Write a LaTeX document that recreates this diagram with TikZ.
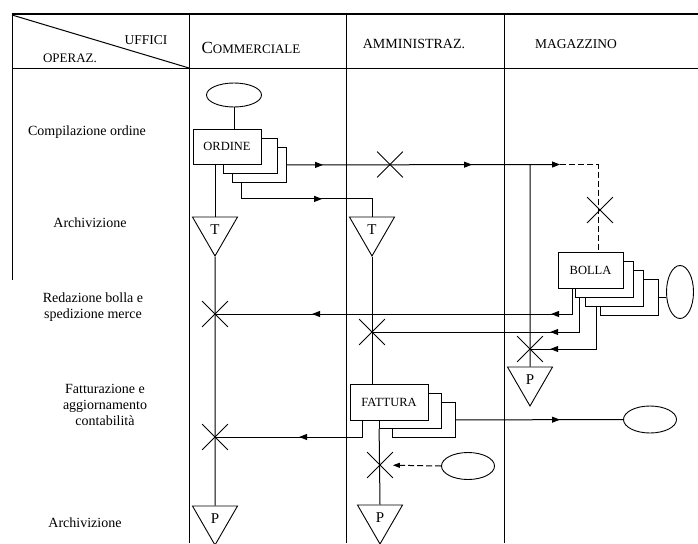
\documentclass[tikz,border=0pt]{standalone}
\usepackage{fontspec}
\setmainfont{Liberation Serif}
\usetikzlibrary{positioning,arrows.meta,calc,shapes.geometric,shapes.misc,decorations.markings}

\begin{document}
\begin{tikzpicture}[x=1pt,y=-1pt,
  lane/.style={line width=0.8pt},
  flow/.style={line width=1pt},
  tratt/.style={dash pattern=on 6pt off 3pt},
  doc/.style={draw, fill=white, rectangle, line width=0.9pt, inner sep=0pt, font=\fontsize{12.5}{14}\selectfont},
  copia/.style={doc, anchor=north east},
  archivio/.style={draw, fill=white, regular polygon, regular polygon sides=3, shape border rotate=180,
    minimum size=52pt, inner sep=0pt, line width=0.9pt, font=\fontsize{15}{17}\selectfont},
  term/.style={draw, ellipse, line width=0.9pt, inner sep=0pt},
  croce/.style={draw, cross out, minimum size=25pt, inner sep=0pt, line width=0.8pt},
  oper/.style={align=center, font=\fontsize{14}{16}\selectfont},
  ufficio/.style={font=\fontsize{13}{15}\selectfont},
  freccia/.style={postaction={decorate, decoration={markings,
    mark=at position #1 with {\arrow{Triangle[length=8pt,width=6pt]}}}}}
]
\useasboundingbox (0,0) rectangle (698,543);

% griglia
\draw[lane, line width=1.2pt] (12,14) -- (698,14);
\draw[lane, line width=1pt] (12,68) -- (698,68);
\draw[lane] (12,14) -- (12,280);
\draw[lane, line width=1pt] (12,15) -- (189,68);
\foreach \x in {189,346,504}
  \draw[lane] (\x,14) -- (\x,543);

% intestazioni
\node[ufficio, font=\fontsize{13.5}{15}\selectfont] (uff) at (146,40) {UFFICI};
\node[ufficio] (opz) at (70,58) {OPERAZ.};
\node[ufficio] (comm) at (251,48) {{\fontsize{17}{18}\selectfont C}OMMERCIALE};
\node[ufficio, font=\fontsize{14}{16}\selectfont] (amm) at (414,44) {AMMINISTRAZ.};
\node[ufficio, font=\fontsize{13.5}{16}\selectfont] (mag) at (576,44) {MAGAZZINO};

% operazioni
\node[oper] (op1) at (87,132) {Compilazione ordine};
\node[oper] (op2) at (90,223) {Archivizione};
\node[oper] (op3) at (93,307) {Redazione bolla e\\spedizione merce};
\node[oper] (op4) at (105,405) {Fatturazione e\\aggiornamento\\contabilità};
\node[oper] (op5) at (85,523) {Archivizione};

% documenti
\node[term, minimum width=55pt, minimum height=24pt] (inizio) at (234,95) {};
\node[copia, minimum width=54pt, minimum height=35pt] (ordine3) at (287,147) {};
\node[copia, minimum width=54pt, minimum height=35pt] (ordine2) at (278,138) {};
\node[doc, minimum width=68pt, minimum height=35pt] (ordine) at (227,146.5) {ORDINE};

\node[copia, minimum width=58pt, minimum height=36pt] (bolla4) at (659,279) {};
\node[copia, minimum width=58pt, minimum height=36pt] (bolla3) at (644,270) {};
\node[copia, minimum width=58pt, minimum height=36pt] (bolla2) at (634,261) {};
\node[doc, minimum width=65pt, minimum height=36pt] (bolla) at (590.5,270) {BOLLA};
\node[term, minimum width=27pt, minimum height=53pt] (archB) at (680,292) {};

\node[copia, minimum width=63pt, minimum height=35pt] (fattura3) at (456,402) {};
\node[copia, minimum width=62pt, minimum height=35pt] (fattura2) at (442,393) {};
\node[doc, minimum width=78pt, minimum height=36pt] (fattura) at (389,402) {FATTURA};
\node[term, minimum width=53pt, minimum height=27pt] (archF) at (650,419.5) {};
\node[term, minimum width=53pt, minimum height=27pt] (archA) at (468,466) {};

% archivi
\node[archivio] (t1) at (215,230) {\raisebox{-3pt}{T}};
\node[archivio] (t2) at (372,230) {\raisebox{-3pt}{T}};
\node[archivio] (pm) at (530,380) {\raisebox{-3pt}{P}};
\node[archivio] (pc) at (215,519) {\raisebox{-3pt}{P}};
\node[archivio] (pa) at (380,518) {\raisebox{-3pt}{P}};

% controlli
\node[croce] (x1) at (390,164.5) {};
\node[croce] (x2) at (600,210) {};
\node[croce] (x3) at (215,314) {};
\node[croce] (x4) at (372,332) {};
\node[croce] (x5) at (530,349) {};
\node[croce] (x6) at (215,437) {};
\node[croce] (x7) at (380,465) {};

\coordinate (ramo) at (530,164.5);
\coordinate (smist) at (560,164.5);
\coordinate (angolo) at (598,164.5);

% flussi
\draw[flow] (inizio.south) -- (inizio.south |- ordine.north);
\draw[flow] (t1.north |- ordine.south) -- (t1.north);
\draw[flow] (t1.south) -- (pc.north);
\draw[flow, freccia=36pt, freccia=185pt, -{Triangle[length=8pt,width=6pt]}] (ordine3.east) -- (smist);
\draw[flow, tratt] (smist) -- (angolo) -- (angolo |- bolla.north);
\draw[flow] (ramo) -- (pm.north);
\draw[flow, freccia=97pt] ($(ordine3.south west)+(9,0)$) -- ++(0,16) -| (t2.north);
\draw[flow] (t2.south) -- (t2.south |- fattura.north);

\draw[flow, freccia=47pt, freccia=286pt] ($(bolla.south west)+(15,0)$) |- (x3.center);
\draw[flow, freccia=63pt] ($(bolla2.south west)+(4,0)$) |- (x4.center);
\draw[flow, freccia=88pt] ($(bolla3.south west)+(11,0)$) |- (x5.center);
\draw[flow] (bolla4.east) -- (bolla4.east -| archB.west);

\draw[flow, freccia=80pt] ($(fattura.south west)+(13,0)$) |- (x6.center);
\draw[flow, freccia=104pt] (fattura3.east) -- (archF.west);
\draw[flow] (fattura2.south west) -- (pa.north);
\draw[flow, tratt, -{Triangle[length=7pt,width=5pt]}] (archA.west) -- (x7);
\end{tikzpicture}
\end{document}
